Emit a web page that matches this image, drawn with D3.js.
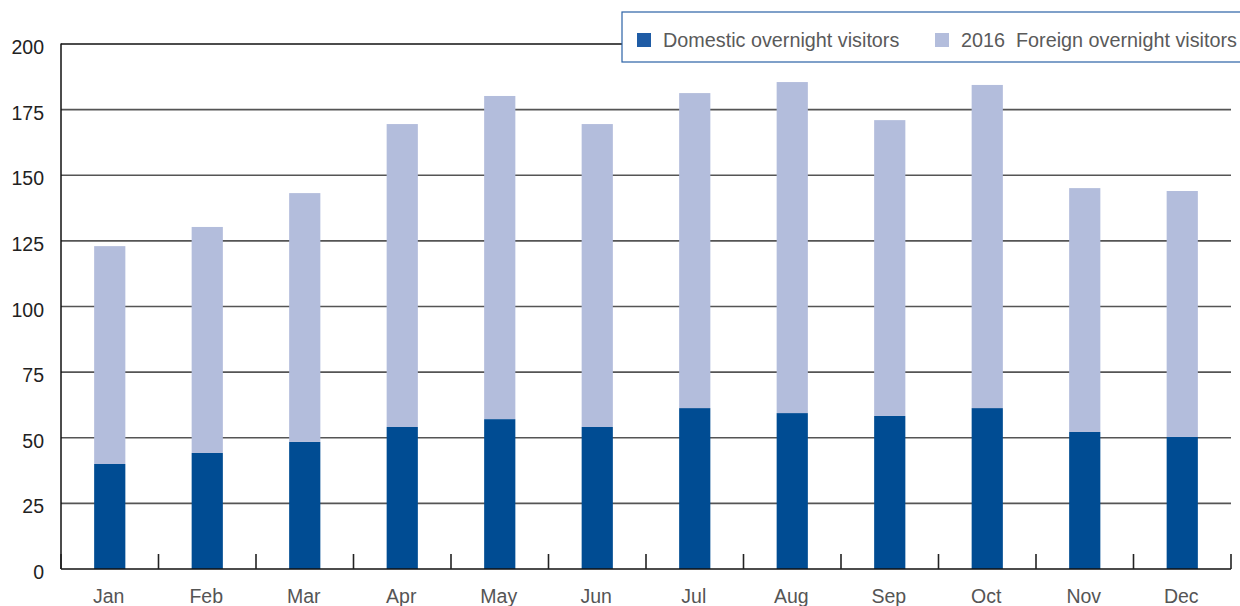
<!DOCTYPE html>
<html>
<head>
<meta charset="utf-8">
<script src="https://cdn.jsdelivr.net/npm/d3@7/dist/d3.min.js"></script>
<style>
  html, body { margin: 0; padding: 0; background: #fff; }
  svg { display: block; font-family: "Liberation Sans", Arial, sans-serif; }
</style>
</head>
<body>
<svg id="chart" width="1240" height="606"></svg>
<script>
// Monthly overnight visitors (thousands), 2016
const months = ["Jan", "Feb", "Mar", "Apr", "May", "Jun", "Jul", "Aug", "Sep", "Oct", "Nov", "Dec"];
const domestic = [40, 44.2, 48.4, 54.1, 57.1, 54.1, 61.3, 59.4, 58.3, 61.3, 52.2, 50.3];
const foreign = [83, 86.1, 94.8, 115.4, 123.1, 115.4, 120, 126.1, 112.7, 123.1, 92.9, 93.7];
const yTicks = [0, 25, 50, 75, 100, 125, 150, 175, 200];
const seriesNames = ["Domestic overnight visitors", "2016  Foreign overnight visitors"];

const colors = ["#004c93", "#b3bddc"];

const svg = d3.select("#chart");
const plotLeft = 61, plotRight = 1231, plotTop = 44, plotBottom = 569;

const x = d3.scaleBand().domain(months).range([plotLeft, plotRight]).padding(0);
const y = d3.scaleLinear().domain([0, 200]).range([plotBottom, plotTop]);
const barW = x.bandwidth() * 0.32;

// Horizontal gridlines
svg.append("g")
  .selectAll("line")
  .data(yTicks.filter(t => t > 0))
  .join("line")
  .attr("x1", plotLeft).attr("x2", plotRight)
  .attr("y1", d => y(d)).attr("y2", d => y(d))
  .attr("stroke", d => d === 200 ? "#111" : "#555")
  .attr("stroke-width", d => d === 200 ? 1.3 : 1.6);

// Y tick labels
svg.append("g")
  .selectAll("text")
  .data(yTicks)
  .join("text")
  .attr("x", 44)
  .attr("y", d => y(d) + 10)
  .attr("text-anchor", "end")
  .attr("font-size", 19.5)
  .attr("fill", "#222")
  .text(d => d);

// Stacked bars
const stackData = months.map((m, i) => ({ month: m, domestic: domestic[i], foreign: foreign[i] }));
const stacked = d3.stack().keys(["domestic", "foreign"])(stackData);

svg.append("g")
  .selectAll("g")
  .data(stacked)
  .join("g")
  .attr("fill", (d, i) => colors[i])
  .selectAll("rect")
  .data(d => d)
  .join("rect")
  .attr("x", d => x(d.data.month) + (x.bandwidth() - barW) / 2)
  .attr("width", barW)
  .attr("y", d => y(d[1]))
  .attr("height", d => y(d[0]) - y(d[1]));

// Axis lines
svg.append("line")
  .attr("x1", plotLeft).attr("x2", plotLeft)
  .attr("y1", plotTop - 0.5).attr("y2", plotBottom)
  .attr("stroke", "#111").attr("stroke-width", 1.5);
svg.append("line")
  .attr("x1", plotLeft).attr("x2", plotRight)
  .attr("y1", plotBottom).attr("y2", plotBottom)
  .attr("stroke", "#111").attr("stroke-width", 1.6);

// Category boundary ticks
const bounds = months.map(m => x(m)).concat([plotRight]);
svg.append("g")
  .selectAll("line")
  .data(bounds)
  .join("line")
  .attr("x1", d => d).attr("x2", d => d)
  .attr("y1", plotBottom - 15).attr("y2", plotBottom)
  .attr("stroke", "#222").attr("stroke-width", 1.6);

// Month labels (the row sits at the bottom edge of the canvas)
svg.append("g")
  .selectAll("text")
  .data(months)
  .join("text")
  .attr("x", d => x(d) + x.bandwidth() / 2 - 1)
  .attr("y", 603)
  .attr("text-anchor", "middle")
  .attr("font-size", 19.5)
  .attr("fill", "#555")
  .text(d => d);

// Legend
const legend = svg.append("g");
legend.append("rect")
  .attr("x", 622).attr("y", 12)
  .attr("width", 640).attr("height", 50)
  .attr("fill", "#fff")
  .attr("stroke", "#2b62a6").attr("stroke-width", 1.2);

const legendX = [637, 935];
seriesNames.forEach((name, i) => {
  legend.append("rect")
    .attr("x", legendX[i]).attr("y", 33)
    .attr("width", 14).attr("height", 14)
    .attr("fill", i === 0 ? "#1f5ca5" : colors[1]);
  legend.append("text")
    .attr("x", legendX[i] + 26).attr("y", 47)
    .attr("font-size", 19.8)
    .attr("fill", "#5a5a5a")
    .attr("xml:space", "preserve")
    .style("white-space", "pre")
    .text(name);
});
</script>
</body>
</html>
